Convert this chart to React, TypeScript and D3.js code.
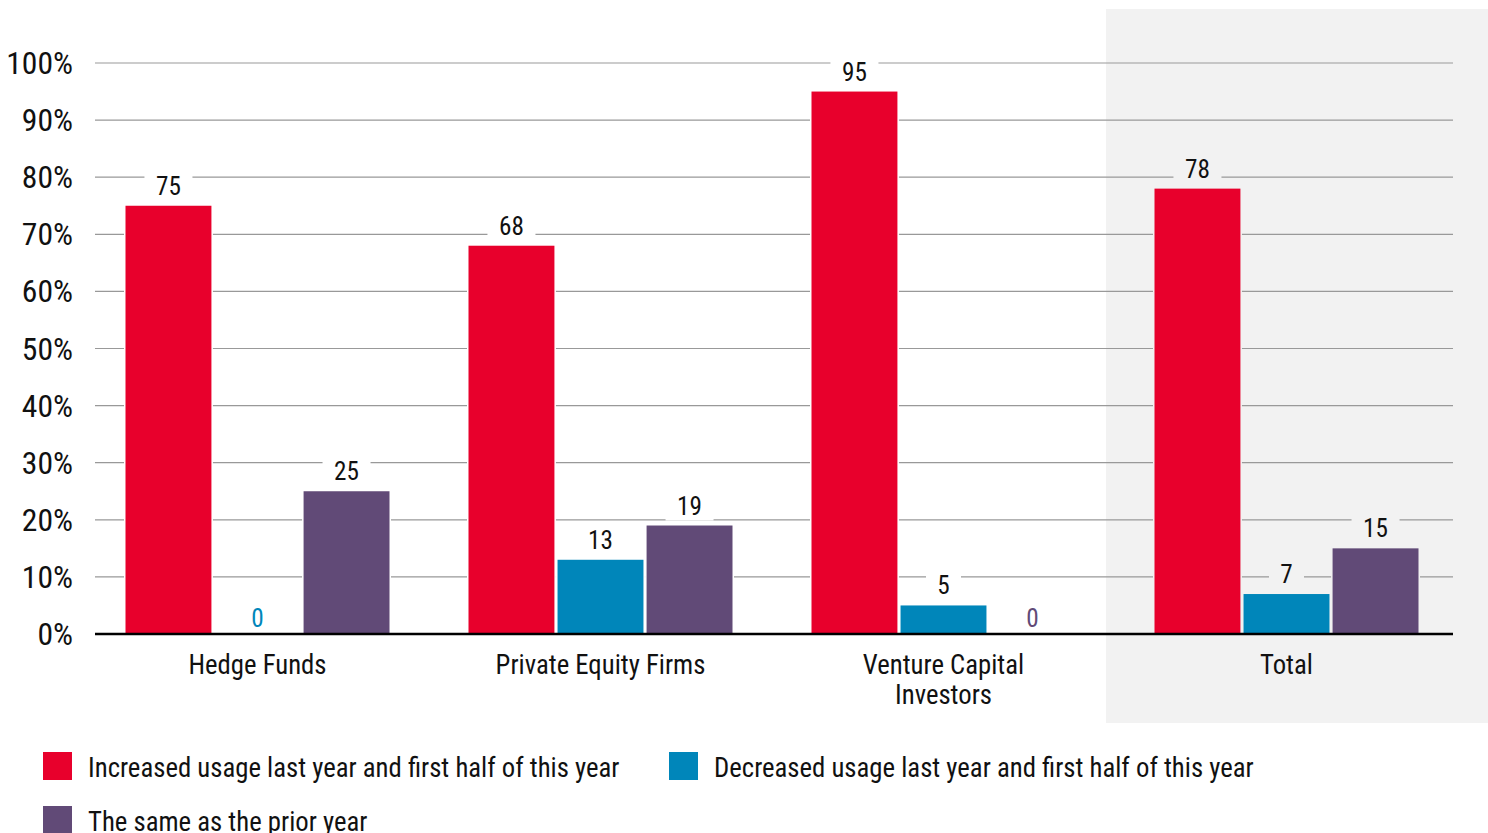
import React from "react";
import * as d3 from "d3";

const categories = ["Hedge Funds", "Private Equity Firms", "Venture Capital\nInvestors", "Total"];
const seriesKeys = ["increased", "decreased", "same"];
const seriesLabels = [
  "Increased usage last year and first half of this year",
  "Decreased usage last year and first half of this year",
  "The same as the prior year",
];
const seriesColors = ["#E8002C", "#0086BA", "#614A77"];
const increased = [75, 68, 95, 78];
const decreased = [0, 13, 5, 7];
const same = [25, 19, 0, 15];
const yTicks = [0, 10, 20, 30, 40, 50, 60, 70, 80, 90, 100];

const W = 1488;
const H = 833;
const FONT = "'Roboto Condensed', Roboto, sans-serif";

function CText({ x, y, size, fill = "#111", anchor = "middle", sx = 1, children }: any) {
  return (
    <g transform={`translate(${x},${y}) scale(${sx},1)`}>
      <text fontFamily={FONT} fontSize={size} fill={fill} textAnchor={anchor}>
        {children}
      </text>
    </g>
  );
}

export default function App() {
  const values = [increased, decreased, same];
  const y = d3.scaleLinear().domain([0, 100]).range([634, 63]);
  const x0 = d3.scaleBand().domain(categories).range([86, 1458]).paddingInner(0).paddingOuter(0);
  const groupW = 264;
  const x1 = d3.scaleBand().domain(seriesKeys).range([0, groupW]).paddingInner(0.035);
  const plotL = 95;
  const plotR = 1453;
  const panelX = 1106;
  const bgAt = (px: number) => (px >= panelX ? "#F2F2F2" : "#FFFFFF");

  return (
    <svg width={W} height={H} style={{ position: "absolute", left: 0, top: 0, background: "#fff" }}>
      <rect x={panelX} y={9} width={W - panelX} height={714} fill="#F2F2F2" />
      {yTicks.map((t) => (
        <g key={t}>
          {t > 0 && <line x1={plotL} x2={plotR} y1={y(t)} y2={y(t)} stroke="#999" strokeWidth={1.2} />}
          <CText x={73} y={y(t) + 11} size={31} anchor="end" sx={1.02}>{`${t}%`}</CText>
        </g>
      ))}
      {categories.map((c, ci) => {
        const gx = (x0(c) as number) + x0.bandwidth() / 2 - groupW / 2;
        return (
          <g key={c}>
            {seriesKeys.map((k, si) => {
              const v = values[si][ci];
              const bx = gx + (x1(k) as number);
              const bw = x1.bandwidth();
              return (
                <g key={k}>
                  {v > 0 && (
                    <rect
                      x={bx}
                      y={y(v)}
                      width={bw}
                      height={y(0) - y(v)}
                      fill={seriesColors[si]}
                      stroke={bgAt(bx)}
                      strokeWidth={3}
                      paintOrder="stroke"
                    />
                  )}
                </g>
              );
            })}
            {seriesKeys.map((k, si) => {
              const v = values[si][ci];
              const cx = gx + (x1(k) as number) + x1.bandwidth() / 2;
              const ty = v === 0 ? y(0) - 7 : y(v) - 11;
              const lw = String(v).length * 13 + 22;
              return (
                <g key={k + "l"}>
                  {v > 0 && <rect x={cx - lw / 2} y={ty - 24} width={lw} height={30} fill={bgAt(cx)} />}
                  <CText x={cx} y={ty} size={26} fill={v === 0 ? seriesColors[si] : "#111"} sx={0.97}>
                    {v}
                  </CText>
                </g>
              );
            })}
          </g>
        );
      })}
      <line x1={plotL} x2={plotR} y1={y(0)} y2={y(0)} stroke="#000" strokeWidth={2.5} />
      {categories.map((c) => {
        const cx = (x0(c) as number) + x0.bandwidth() / 2;
        return c.split("\n").map((line, i) => (
          <CText key={c + i} x={cx} y={674 + i * 30} size={27} sx={0.99}>
            {line}
          </CText>
        ));
      })}
      {seriesLabels.map((s, i) => {
        const lx = i === 1 ? 669 : 43;
        const ly = i === 2 ? 806 : 752;
        return (
          <g key={s}>
            <rect x={lx} y={ly} width={29} height={28} fill={seriesColors[i]} />
            <CText x={lx + 45} y={ly + 25} size={27} anchor="start" sx={0.99}>
              {s}
            </CText>
          </g>
        );
      })}
    </svg>
  );
}
